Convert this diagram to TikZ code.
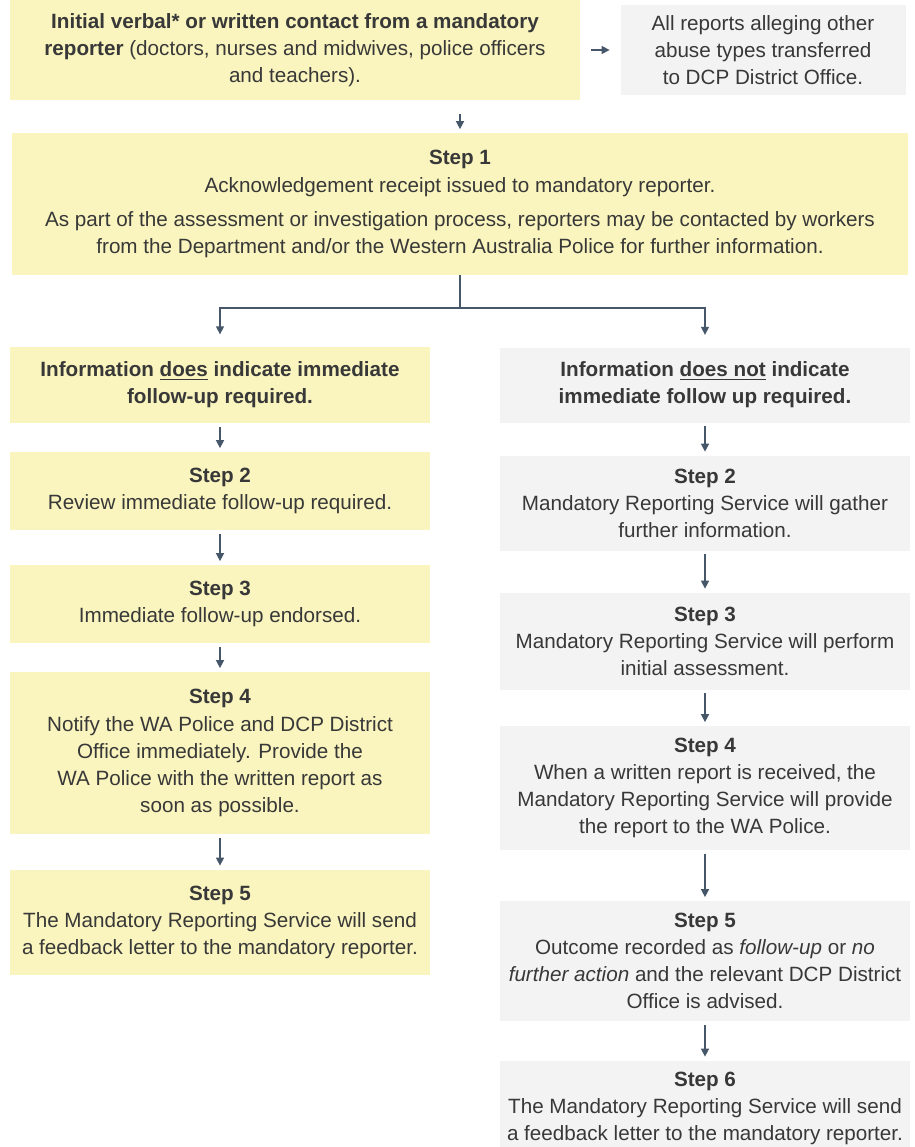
\documentclass[tikz,border=0pt]{standalone}
\usepackage{fontspec}
\setmainfont{Liberation Sans}
\usepackage{xcolor}
\usetikzlibrary{positioning, arrows.meta}

\definecolor{paleyellow}{HTML}{FAF5BE}
\definecolor{palegrey}{HTML}{F3F3F3}
\definecolor{arrowblue}{HTML}{46576A}
\definecolor{inkgrey}{HTML}{383838}

\tikzset{
  flowbox/.style={rectangle, align=center, inner sep=2pt, text=inkgrey, font=\fontsize{11.75}{15.4}\selectfont},
  yesbox/.style={flowbox, fill=paleyellow, minimum width=8.4cm},
  nobox/.style={flowbox, fill=palegrey, minimum width=8.2cm},
  arr/.style={-{Triangle[width=4.5pt,length=4.5pt]}, arrowblue, line width=0.8pt, shorten <=2pt, shorten >=2pt},
}

\begin{document}
\begin{tikzpicture}[node distance=3cm, auto]
    \useasboundingbox (0,0) rectangle (18.3,-22.94);

    \node (report) [flowbox, fill=paleyellow, minimum width=11.4cm, minimum height=2cm] at (5.9,-1) {\textbf{Initial verbal* or written contact from a mandatory}\\ \textbf{reporter} (doctors, nurses and midwives, police officers\\ and teachers).};
    \node (transfer) [flowbox, fill=palegrey, right of=report, node distance=9.36cm, minimum width=5.7cm, minimum height=1.8cm] {All reports alleging other\\ abuse types transferred\\ to DCP District Office.};
    \node (step1) [flowbox, fill=paleyellow, minimum width=17.9cm, minimum height=2.84cm] at (9.2,-4.08) {\textbf{Step 1}\\ Acknowledgement receipt issued to mandatory reporter.\\[4pt] As part of the assessment or investigation process, reporters may be contacted by workers\\ from the Department and/or the Western Australia Police for further information.};
    \node (split) [coordinate, below of=step1, node distance=2.08cm] {};

    % immediate follow-up
    \node (yes) [yesbox, minimum height=1.52cm] at (4.4,-7.7) {\textbf{Information \underline{does} indicate immediate}\\ \textbf{follow-up required.}};
    \node (yes2) [yesbox, below of=yes, node distance=2.12cm, minimum height=1.56cm] {\textbf{Step 2}\\ Review immediate follow-up required.};
    \node (yes3) [yesbox, below of=yes2, node distance=2.26cm, minimum height=1.56cm] {\textbf{Step 3}\\ Immediate follow-up endorsed.};
    \node (yes4) [yesbox, below of=yes3, node distance=2.98cm, minimum height=3.24cm] {\textbf{Step 4}\\ Notify the WA Police and DCP District\\ Office immediately. Provide the\\ WA Police with the written report as\\ soon as possible.};
    \node (yes5) [yesbox, below of=yes4, node distance=3.38cm, minimum height=2.1cm] {\textbf{Step 5}\\ The Mandatory Reporting Service will send\\ a feedback letter to the mandatory reporter.};

    % no immediate follow-up
    \node (no) [nobox, right of=yes, node distance=9.7cm, minimum height=1.5cm] {\textbf{Information \underline{does not} indicate}\\ \textbf{immediate follow up required.}};
    \node (no2) [nobox, below of=no, node distance=2.36cm, minimum height=1.9cm] {\textbf{Step 2}\\ Mandatory Reporting Service will gather\\ further information.};
    \node (no3) [nobox, below of=no2, node distance=2.76cm, minimum height=1.94cm] {\textbf{Step 3}\\ Mandatory Reporting Service will perform\\ initial assessment.};
    \node (no4) [nobox, below of=no3, node distance=2.94cm, minimum height=2.48cm] {\textbf{Step 4}\\ When a written report is received, the\\ Mandatory Reporting Service will provide\\ the report to the WA Police.};
    \node (no5) [nobox, below of=no4, node distance=3.46cm, minimum height=2.4cm] {\textbf{Step 5}\\ Outcome recorded as \textit{follow-up} or \textit{no}\\ \textit{further action} and the relevant DCP District\\ Office is advised.};
    \node (no6) [nobox, below of=no5, node distance=2.94cm, minimum height=1.9cm] {\textbf{Step 6}\\ The Mandatory Reporting Service will send\\ a feedback letter to the mandatory reporter.};

    \draw[arr, shorten <=8pt] (report.south -| step1) -- (step1);
    \draw[arr, shorten <=6pt, shorten >=6pt] (report) -- (transfer);
    \draw[arrowblue, line width=0.8pt] (step1) -- (split);
    \draw[arr, shorten <=0pt, shorten >=7pt] (split) -| (yes);
    \draw[arr, shorten <=0pt, shorten >=7pt] (split) -| (no);
    \foreach \a/\b in {yes/yes2, yes2/yes3, yes3/yes4, yes4/yes5, no/no2, no2/no3, no3/no4, no4/no5, no5/no6}
        \draw[arr] (\a) -- (\b);
\end{tikzpicture}
\end{document}
